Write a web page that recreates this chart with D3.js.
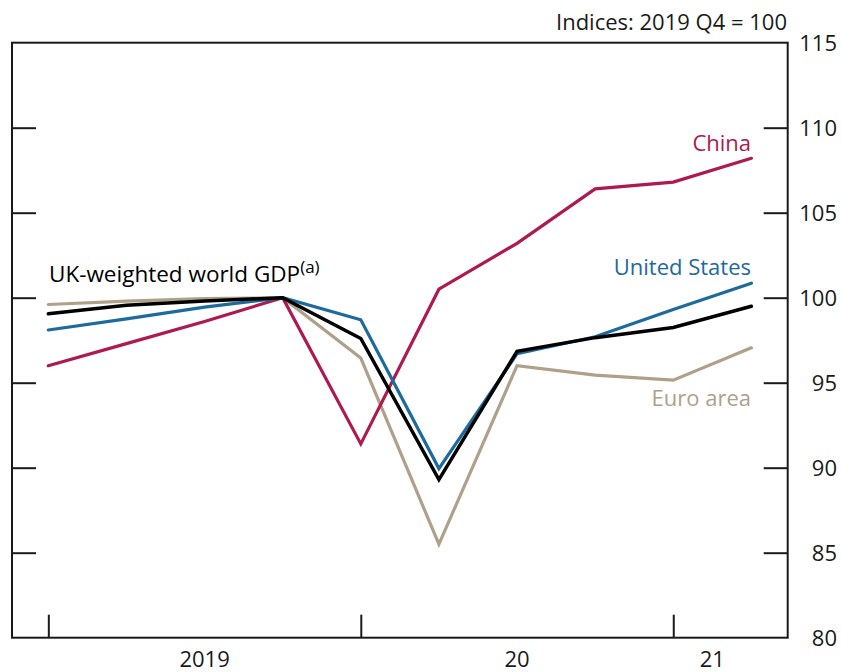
<!DOCTYPE html>
<html>
<head>
<meta charset="utf-8">
<script src="https://cdn.jsdelivr.net/npm/d3@7"></script>
<style>
  html, body { margin: 0; padding: 0; background: #fff; }
  svg { display: block; font-family: "Open Sans", "Noto Sans", sans-serif; }
</style>
</head>
<body>
<svg id="chart" width="841" height="672"></svg>
<script>
// ---- data ----
const quarters = ["2019 Q1","2019 Q2","2019 Q3","2019 Q4","2020 Q1","2020 Q2","2020 Q3","2020 Q4","2021 Q1","2021 Q2"];
const ukWeighted   = [99.05, 99.55, 99.8, 100, 97.6, 89.3, 96.85, 97.65, 98.25, 99.5];
const unitedStates = [98.1, 98.75, 99.45, 100, 98.7, 89.95, 96.7, 97.7, 99.3, 100.85];
const euroArea     = [99.6, 99.8, 99.95, 100, 96.45, 85.5, 96.0, 95.45, 95.15, 97.05];
const china        = [96.0, 97.3, 98.6, 100, 91.4, 100.5, 103.2, 106.4, 106.8, 108.2];
const yTicks = [80, 85, 90, 95, 100, 105, 110, 115];
const yearTicks = ["2019 Q1", "2020 Q1", "2021 Q1"];
const yearLabels = ["2019", "20", "21"];

const series = [
  { name: "Euro area", values: euroArea, color: "#AFA08A" },
  { name: "China", values: china, color: "#AD1A4F" },
  { name: "United States", values: unitedStates, color: "#1D6A9C" },
  { name: "UK-weighted world GDP", values: ukWeighted, color: "#000000" }
];

// ---- layout ----
const L = 12, R = 787.7, T = 42.7, B = 637.7;
const FS = 22;
const svg = d3.select("#chart");

const x = d3.scalePoint().domain(quarters).range([L, R]).padding(0.465);
const y = d3.scaleLinear().domain([80, 115]).range([B, T]);

// frame
svg.append("rect").attr("x", L).attr("y", T).attr("width", R - L).attr("height", B - T)
  .attr("fill", "none").attr("stroke", "#1a1a1a").attr("stroke-width", 2);

// left ticks (no labels)
const leftAxis = d3.axisRight(y).tickValues(yTicks.slice(1, -1)).tickSize(24).tickFormat("");
svg.append("g").attr("transform", `translate(${L},0)`).call(leftAxis)
  .call(g => g.select(".domain").remove())
  .call(g => g.selectAll("line").attr("stroke", "#1a1a1a").attr("stroke-width", 2));

// right ticks
const rightAxis = d3.axisLeft(y).tickValues(yTicks.slice(1, -1)).tickSize(24).tickFormat("");
svg.append("g").attr("transform", `translate(${R},0)`).call(rightAxis)
  .call(g => g.select(".domain").remove())
  .call(g => g.selectAll("line").attr("stroke", "#1a1a1a").attr("stroke-width", 2));

svg.append("g").selectAll("text").data(yTicks).join("text")
  .attr("x", 837).attr("y", d => y(d)).attr("dy", "0.36em")
  .attr("text-anchor", "end").attr("font-size", FS).attr("fill", "#1a1a1a")
  .text(d => d);

// bottom ticks
const bottomAxis = d3.axisTop(x).tickValues(yearTicks).tickSize(23).tickFormat("");
svg.append("g").attr("transform", `translate(0,${B})`).call(bottomAxis)
  .call(g => g.select(".domain").remove())
  .call(g => g.selectAll("line").attr("stroke", "#1a1a1a").attr("stroke-width", 2));

// year labels centred between ticks
const labelPos = [
  (x("2019 Q1") + x("2020 Q1")) / 2,
  (x("2020 Q1") + x("2021 Q1")) / 2,
  (x("2021 Q1") + x("2021 Q2")) / 2
];
svg.append("g").selectAll("text").data(yearLabels).join("text")
  .attr("x", (d, i) => labelPos[i]).attr("y", 667)
  .attr("text-anchor", "middle").attr("font-size", FS).attr("fill", "#1a1a1a")
  .text(d => d);

// units
svg.append("text").attr("x", 787).attr("y", 30).attr("text-anchor", "end")
  .attr("font-size", FS).attr("fill", "#1a1a1a").text("Indices: 2019 Q4 = 100");

// lines
const line = d3.line().x((d, i) => x(quarters[i])).y(d => y(d));
svg.append("g").selectAll("path").data(series).join("path")
  .attr("d", d => line(d.values))
  .attr("fill", "none").attr("stroke", d => d.color)
  .attr("stroke-width", d => d.color === "#000000" ? 3.5 : 3.2)
  .attr("stroke-linejoin", "miter").attr("stroke-linecap", "round");

// series labels
svg.append("text").attr("x", 751).attr("y", 151).attr("text-anchor", "end")
  .attr("font-size", FS).attr("fill", "#AD1A4F").text("China");
svg.append("text").attr("x", 751).attr("y", 275).attr("text-anchor", "end")
  .attr("font-size", FS).attr("fill", "#1D6A9C").text("United States");
svg.append("text").attr("x", 751).attr("y", 406).attr("text-anchor", "end")
  .attr("font-size", FS).attr("fill", "#AFA08A").text("Euro area");
const uk = svg.append("text").attr("x", 49).attr("y", 281.7)
  .attr("font-size", FS + 0.5).attr("fill", "#000");
uk.append("tspan").text("UK-weighted world GDP");
uk.append("tspan").attr("font-size", 17).attr("dy", -9).text("(a)");
</script>
</body>
</html>
